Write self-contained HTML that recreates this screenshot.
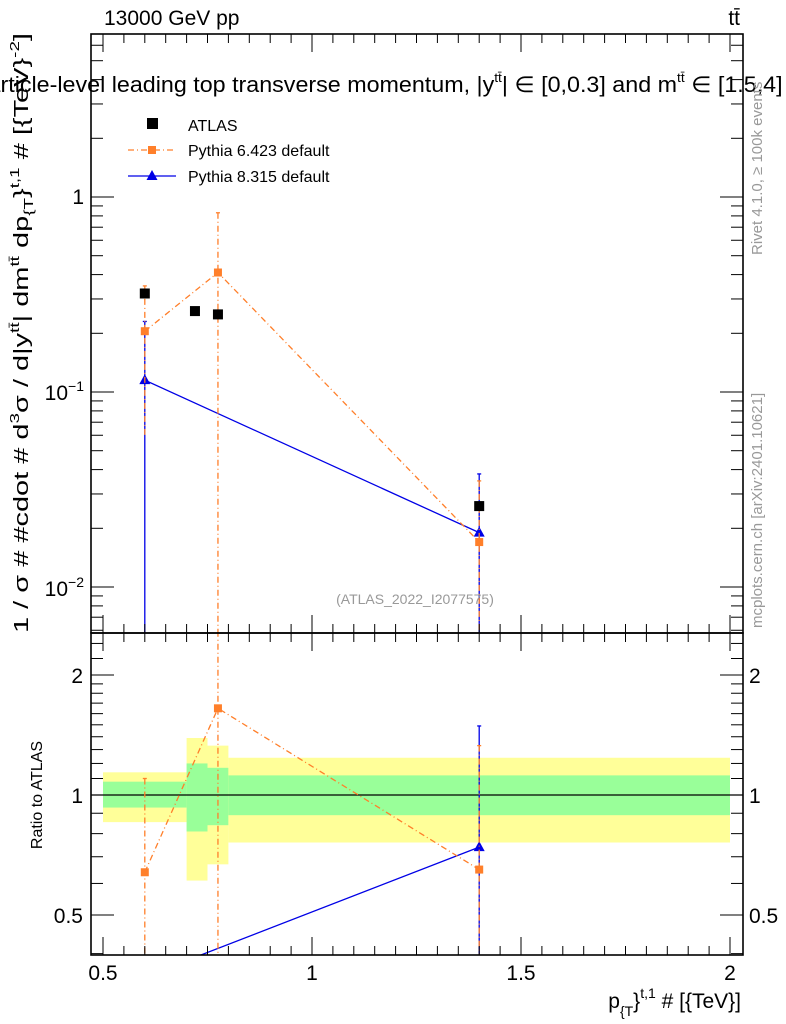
<!DOCTYPE html>
<html><head><meta charset="utf-8"><style>
html,body{margin:0;background:#fff;width:786px;height:1024px;overflow:hidden;position:relative;}
svg{display:block;font-family:"Liberation Sans",sans-serif;}
</style></head><body>
<svg id="c" width="786" height="1024" viewBox="0 0 786 1024" style="position:absolute;left:0;top:0"></svg>
<script>
// ---- data ----
const atlasX=[0.6,0.72,0.775,1.4];
const atlasY=[0.32,0.26,0.25,0.026];
const p6X=[0.6,0.775,1.4];
const p6Y=[0.205,0.41,0.017];
const p6Up=[0.35,0.83,0.035];
const p6Dn=[0.06,0.001,0.001];
const p8X=[0.6,1.4];
const p8Y=[0.115,0.019];
const p8Up=[0.23,0.038];
const p8Dn=[0.001,0.001];
const r6Y=[0.64,1.65,0.65];
const r6Up=[1.10,3.0,1.33];
const r6Dn=[0.1,0.1,0.1];
const r8Y=[0.35,0.74];
const r8Up=[0.35,1.49];
const r8Dn=[0.1,0.1];
const binLo=[0.5,0.7,0.75,0.8];
const binHi=[0.7,0.75,0.8,2.0];
const yelLo=[0.855,0.61,0.67,0.76];
const yelHi=[1.14,1.39,1.33,1.24];
const grnLo=[0.93,0.81,0.84,0.89];
const grnHi=[1.08,1.2,1.17,1.12];
const xTicks=[0.5,1,1.5,2];
const xTickLabels=["0.5","1","1.5","2"];
const rTicks=[0.5,1,2];
const rTickLabels=["0.5","1","2"];

// ---- axes ----
const L=91,R=743,T=34,MB=633,B=955;
const X=v=>103+(v-0.5)*(730-103)/1.5;
const Y=v=>197-195*Math.log10(v);
const RY=v=>795-120*Math.log2(v);
const svg=document.getElementById('c');
const NS='http://www.w3.org/2000/svg';
function mk(tag,a,parent){const e=document.createElementNS(NS,tag);for(const k in a)e.setAttribute(k,a[k]);(parent||svg).appendChild(e);return e;}

const defs=mk('defs',{});
const c1=mk('clipPath',{id:'cm'},defs);mk('rect',{x:L,y:T,width:R-L,height:MB-T},c1);
const c2=mk('clipPath',{id:'cr'},defs);mk('rect',{x:L,y:MB,width:R-L,height:B-MB},c2);

const gb=mk('g',{'clip-path':'url(#cr)'});


for(let i=0;i<binLo.length;i++){
  const y=mk('rect',{x:X(binLo[i]),y:RY(yelHi[i]),width:X(binHi[i])-X(binLo[i]),height:RY(yelLo[i])-RY(yelHi[i]),fill:'#ffff99'},gb);
  
  
  const g=mk('rect',{x:X(binLo[i]),y:RY(grnHi[i]),width:X(binHi[i])-X(binLo[i]),height:RY(grnLo[i])-RY(grnHi[i]),fill:'#99ff99'},gb);
  
  
}
const one=mk('line',{x1:L,x2:R,y1:RY(1),y2:RY(1),stroke:'#000','stroke-width':1.3});



function series(gp,xs,ys,up,dn,yf,color,dash,marker,name,showLine){
  const g=mk('g',{'clip-path':gp});
  
  
  if(showLine){
    mk('polyline',{points:xs.map((x,i)=>X(x)+','+yf(ys[i])).join(' '),fill:'none',stroke:color,'stroke-width':1.3,'stroke-dasharray':dash},g);
  }
  xs.forEach((x,i)=>{
    if(up){
      const yu=yf(up[i]),yd=yf(dn[i]);
      mk('line',{x1:X(x),x2:X(x),y1:yu,y2:yd,stroke:color,'stroke-width':1.3,'stroke-dasharray':dash},g);
      mk('line',{x1:X(x)-2,x2:X(x)+2,y1:yu,y2:yu,stroke:color,'stroke-width':1.3},g);
    }
    const px=X(x),py=yf(ys[i]);
    let m;
    if(marker==='sq') m=mk('rect',{x:px-5,y:py-5,width:10,height:10,fill:color},g);
    else if(marker==='sqs') m=mk('rect',{x:px-4,y:py-4,width:8,height:8,fill:color},g);
    else m=mk('polygon',{points:`${px},${py-6} ${px-5.5},${py+4} ${px+5.5},${py+4}`,fill:color},g);
    
    
  });
}
const OR='#ff7f2a', BL='#0000e6';
series('url(#cm)',p8X,p8Y,p8Up,p8Dn,Y,BL,'none','tri','pythia8-main',true);
series('url(#cm)',p6X,p6Y,p6Up,p6Dn,Y,OR,'6,3,1,3','sqs','pythia6-main',true);
series('url(#cm)',atlasX,atlasY,null,null,Y,'#000','none','sq','atlas-main',false);
series('url(#cr)',p8X,r8Y,r8Up,r8Dn,RY,BL,'none','tri','pythia8-ratio',true);
series('url(#cr)',p6X,r6Y,r6Up,r6Dn,RY,OR,'6,3,1,3','sqs','pythia6-ratio',true);

const fr=mk('g',{fill:'none',stroke:'#000','stroke-width':1.6});


mk('rect',{x:L,y:T,width:R-L,height:MB-T},fr);
mk('rect',{x:L,y:MB,width:R-L,height:B-MB},fr);

const tk=mk('g',{stroke:'#000','stroke-width':1});


for(let v=0.5;v<=2.0001;v+=0.05){
  const maj=Math.abs(v*2-Math.round(v*2))<1e-6;
  const len=maj?18:9,x=X(v);
  [[T,1],[MB,-1],[MB,1],[B,-1]].forEach(([y,d])=>mk('line',{x1:x,x2:x,y1:y,y2:y+d*len},tk));
}
for(let e=-3;e<=0;e++)for(let k=1;k<=9;k++){
  const v=k*Math.pow(10,e),y=Y(v);if(y<T||y>MB)continue;
  const len=k===1?23:12;
  mk('line',{x1:L,x2:L+len,y1:y,y2:y},tk);mk('line',{x1:R,x2:R-len,y1:y,y2:y},tk);
}
[0.4,0.5,0.6,0.7,0.8,0.9,1,1.1,1.2,1.3,1.4,1.5,1.6,1.7,1.8,1.9,2,2.2,2.4].forEach(v=>{
  const y=RY(v);if(y<MB||y>B)return;
  const len=rTicks.includes(v)?23:12;
  mk('line',{x1:L,x2:L+len,y1:y,y2:y},tk);mk('line',{x1:R,x2:R-len,y1:y,y2:y},tk);
});
function txt(x,y,s,a,name){const t=mk('text',Object.assign({x:x,y:y},a));t.textContent=s;return t;}
xTicks.forEach((v,i)=>txt(X(v),980,xTickLabels[i],{'font-size':21,'text-anchor':'middle'},'x-tick-label'));
rTicks.forEach((v,i)=>{txt(L-8,RY(v)+8,rTickLabels[i],{'font-size':21,'text-anchor':'end'},'ratio-tick-label');txt(R+6,RY(v)+8,rTickLabels[i],{'font-size':21},'ratio-tick-label-right');});
</script>
<svg width="786" height="1024" style="position:absolute;left:0;top:0;overflow:hidden" font-family="Liberation Sans, sans-serif">
<text x="84" y="204" font-size="21" text-anchor="end">1</text>
<text x="84" y="400" font-size="21" text-anchor="end">10<tspan font-size="14" dy="-9">−1</tspan></text>
<text x="84" y="596" font-size="21" text-anchor="end">10<tspan font-size="14" dy="-9">−2</tspan></text>
<text x="104" y="25" font-size="21">13000 GeV pp</text>
<text x="740" y="25" font-size="21" text-anchor="end">tt̄</text>
<text x="-28" y="92" font-size="22" textLength="830" lengthAdjust="spacingAndGlyphs">Particle-level leading top transverse momentum, |y<tspan font-size="13" dy="-10">tt̄</tspan><tspan dy="10">| ∈ [0,0.3] and m</tspan><tspan font-size="13" dy="-10">tt̄</tspan><tspan dy="10"> ∈ [1.5,4] #</tspan></text>
<rect x="147" y="118" width="11" height="11" fill="#000"/>
<text x="188" y="131" font-size="16">ATLAS</text>
<line x1="128" x2="176" y1="150" y2="150" stroke="#ff7f2a" stroke-width="1.3" stroke-dasharray="6,3,1,3"/>
<rect x="148" y="146" width="8" height="8" fill="#ff7f2a"/>
<text x="188" y="156" font-size="16">Pythia 6.423 default</text>
<line x1="128" x2="176" y1="176" y2="176" stroke="#0000e6" stroke-width="1.3"/>
<polygon points="152,170 146.5,180 157.5,180" fill="#0000e6"/>
<text x="188" y="182" font-size="16">Pythia 8.315 default</text>
<text x="415" y="604" font-size="14" fill="#999" text-anchor="middle">(ATLAS_2022_I2077575)</text>
<text transform="translate(28,333) rotate(-90)" font-size="20" text-anchor="middle" textLength="600" lengthAdjust="spacingAndGlyphs">1 / σ # #cdot # d<tspan font-size="13" dy="-9">3</tspan><tspan dy="9">σ / d|y</tspan><tspan font-size="13" dy="-9">tt̄</tspan><tspan dy="9">| dm</tspan><tspan font-size="13" dy="-9">tt̄</tspan><tspan dy="9"> dp</tspan><tspan font-size="13" dy="5">{T</tspan><tspan dy="-5">}</tspan><tspan font-size="13" dy="-9">t,1</tspan><tspan dy="9"> # [{TeV}</tspan><tspan font-size="13" dy="-9">-2</tspan><tspan dy="9">]</tspan></text>
<text transform="translate(42,795) rotate(-90)" font-size="16" text-anchor="middle">Ratio to ATLAS</text>
<text x="741" y="1008" font-size="21" text-anchor="end">p<tspan font-size="14" dy="8">{T</tspan><tspan dy="-8">}</tspan><tspan font-size="14" dy="-10">t,1</tspan><tspan dy="10"> # [{TeV}]</tspan></text>
<text transform="translate(762,255) rotate(-90)" font-size="15" fill="#999">Rivet 4.1.0, ≥ 100k events</text>
<text transform="translate(762,628) rotate(-90)" font-size="15" fill="#999">mcplots.cern.ch [arXiv:2401.10621]</text>
</svg>
</body></html>
